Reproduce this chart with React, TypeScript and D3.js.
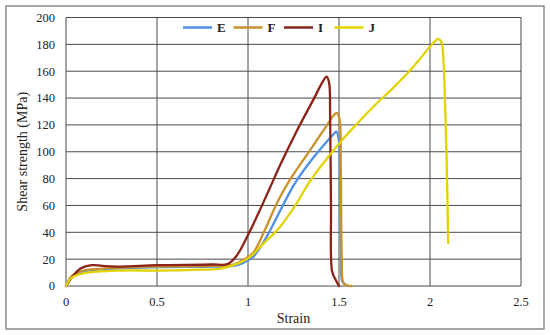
import * as d3 from 'd3';
import * as React from 'react';

// strain / shear strength (MPa)
const seriesNames = ['E', 'F', 'I', 'J'];
const seriesColors = ['#4f8fe6', '#c8922e', '#8b2416', '#e2d300'];

const strainE = [0, 0.03, 0.08, 0.2, 0.5, 0.8, 0.92, 0.97, 1.03, 1.1, 1.18, 1.26, 1.35, 1.43, 1.47, 1.485, 1.5, 1.508, 1.512, 1.52, 1.55];
const stressE = [0, 7, 10.5, 12.5, 14, 14.5, 15, 17, 22, 36, 57, 77, 94, 107, 113, 115, 108, 70, 20, 3, 0];

const strainF = [0, 0.03, 0.08, 0.2, 0.5, 0.8, 0.92, 0.98, 1.03, 1.09, 1.16, 1.23, 1.33, 1.42, 1.47, 1.488, 1.503, 1.51, 1.515, 1.522, 1.54, 1.57];
const stressF = [0, 7, 11, 13, 14.5, 15, 16, 20, 25, 41, 62, 79, 99, 117, 127, 129, 124, 90, 20, 3, 0.5, 0];

const strainI = [0, 0.03, 0.08, 0.14, 0.2, 0.3, 0.5, 0.8, 0.89, 0.94, 1.0, 1.06, 1.12, 1.18, 1.27, 1.36, 1.41, 1.432, 1.446, 1.451, 1.456, 1.462, 1.48, 1.5];
const stressI = [0, 6, 13, 15.5, 15, 14.5, 15.5, 16, 16.5, 23, 38, 55, 73, 91, 116, 139, 152, 156, 151, 130, 60, 11, 5, 0];

const strainJ = [0, 0.03, 0.1, 0.3, 0.5, 0.7, 0.85, 0.95, 1.01, 1.08, 1.17, 1.26, 1.34, 1.5, 1.6, 1.7, 1.8, 1.9, 1.98, 2.025, 2.044, 2.062, 2.075, 2.082, 2.092, 2.1];
const stressJ = [0, 6, 9.5, 11.5, 11.5, 12, 13, 17, 21.5, 31, 43, 60, 78, 106, 121, 135, 148, 162, 175, 182, 184, 182, 165, 140, 90, 32];

const xTicks = [0, 0.5, 1, 1.5, 2, 2.5];
const yTicks = [0, 20, 40, 60, 80, 100, 120, 140, 160, 180, 200];

const allStrain = [strainE, strainF, strainI, strainJ];
const allStress = [stressE, stressF, stressI, stressJ];

const W = 550;
const H = 335;
const left = 66;
const right = 521;
const top = 17.5;
const bottom = 286;

export default function App() {
  const x = d3.scaleLinear().domain([0, 2.5]).range([left, right]);
  const y = d3.scaleLinear().domain([0, 200]).range([bottom, top]);

  const line = d3
    .line<[number, number]>()
    .x(d => x(d[0]))
    .y(d => y(d[1]))
    .curve(d3.curveCatmullRom.alpha(0.5));

  const serif = '"Liberation Serif", "Times New Roman", serif';

  return (
    <div style={{ position: 'absolute', left: 0, top: 0 }}>
      <svg width={W} height={H} style={{ display: 'block', background: '#fff' }}>
        <rect x={6} y={6} width={538} height={323} fill="#fff" stroke="#8a8a8a" strokeWidth={1.5} />

        {yTicks.map(t => (
          <g key={'y' + t}>
            <line x1={left} x2={right} y1={y(t)} y2={y(t)} stroke="#4a4a4a" strokeWidth={1} />
            <text x={left - 11} y={y(t)} dy="0.35em" textAnchor="end" fontFamily={serif} fontSize={12.5} fill="#222">
              {t}
            </text>
          </g>
        ))}
        {xTicks.map(t => (
          <g key={'x' + t}>
            <line x1={x(t)} x2={x(t)} y1={top} y2={bottom} stroke="#4a4a4a" strokeWidth={1} />
            <text x={x(t)} y={bottom + 20} textAnchor="middle" fontFamily={serif} fontSize={12.5} fill="#222">
              {t}
            </text>
          </g>
        ))}

        <text x={(left + right) / 2} y={323} textAnchor="middle" fontFamily={serif} fontSize={14} fill="#222">
          Strain
        </text>
        <text
          transform={`translate(27, ${(top + bottom) / 2}) rotate(-90)`}
          textAnchor="middle"
          fontFamily={serif}
          fontSize={14}
          fill="#222"
        >
          Shear strength (MPa)
        </text>

        {seriesNames.map((name, i) => {
          const pts = allStrain[i].map((s, k) => [s, allStress[i][k]] as [number, number]);
          return (
            <path
              key={name}
              d={line(pts) || ''}
              fill="none"
              stroke={seriesColors[i]}
              strokeWidth={2.3}
              strokeLinejoin="round"
              strokeLinecap="round"
            />
          );
        })}

        {seriesNames.map((name, i) => {
          const lx = 183 + i * 50.5;
          return (
            <g key={'lg' + name}>
              <line x1={lx} x2={lx + 29} y1={27.5} y2={27.5} stroke={seriesColors[i]} strokeWidth={2.5} />
              <text x={lx + 34} y={27.5} dy="0.36em" fontFamily={serif} fontWeight="bold" fontSize={13} fill="#222">
                {name}
              </text>
            </g>
          );
        })}
      </svg>
    </div>
  );
}
